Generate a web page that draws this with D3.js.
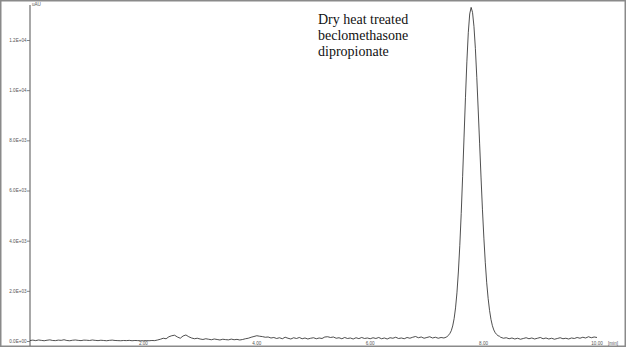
<!DOCTYPE html>
<html><head><meta charset="utf-8">
<script src="https://cdn.jsdelivr.net/npm/d3@7/dist/d3.min.js"></script>
<style>html,body{margin:0;padding:0;background:#fff;}svg{display:block;}</style>
</head><body>
<svg id="c" width="627" height="348"></svg>
<script>
// ---- data ----
const yTickValues = [0, 2000, 4000, 6000, 8000, 10000, 12000];
const yTickLabels = ["0.0E+00", "2.0E+03", "4.0E+03", "6.0E+03", "8.0E+03", "1.0E+04", "1.2E+04"];
const xTickValues = [2, 4, 6, 8, 10];
const xTickLabels = ["2.00", "4.00", "6.00", "8.00", "10.00"];
const yUnit = "uAU";
const xUnit = "[min]";
const titleLines = ["Dry heat treated", "beclomethasone", "dipropionate"];

// baseline before the peak: sampled every 0.05 min starting at 0.00 min
const preStart = 0.0, preStep = 0.05;
const preValues = [
  20, 35, 15, 40, 25, 10, 30, 45, 20, 15, 35, 25, 50, 20, 10, 30, 40, 25, 15, 35,
  30, 20, 40, 25, 15, 30, 20, 10, 25, 35, 20, 15, 10, 20, 15, 25, 10, 20, 15, 10,
  10, 15, 10, 20, 15, 40, 70, 110, 90, 170, 210, 230, 160, 110, 200, 240, 170, 120, 90, 110,
  80, 60, 90, 70, 50, 80, 60, 40, 70, 55, 45, 75, 50, 65, 40, 60, 90, 110, 150, 180,
  210, 190, 175, 150, 160, 120, 140, 100, 130, 90, 150, 110, 80, 130, 100, 140, 90, 120, 80, 110,
  130, 90, 120, 100, 160, 170, 140, 160, 110, 130, 90, 140, 100, 120, 80, 130, 95, 140, 100, 120,
  90, 130, 100, 140, 90, 120, 80, 130, 110, 150, 100, 120, 90, 140, 110, 150, 180, 130, 160, 110,
  140, 170, 120, 150, 110, 140, 120, 160
];
// the main peak
const peakTimes = [7.380, 7.405, 7.430, 7.455, 7.480, 7.505, 7.530, 7.555, 7.580, 7.605, 7.630, 7.655,
  7.680, 7.705, 7.730, 7.755, 7.780, 7.805, 7.830, 7.855, 7.880, 7.905, 7.930, 7.955, 7.980, 8.005,
  8.030, 8.055, 8.080, 8.105, 8.130, 8.155, 8.180, 8.205, 8.230, 8.255, 8.280];
const peakValues = [230, 300, 410, 600, 890, 1320, 1920, 2750, 3800, 5080, 6550, 8130,
  9700, 11130, 12290, 13040, 13300, 13100, 12540, 11660, 10510, 9210, 7860, 6500, 5230, 4100,
  3120, 2320, 1700, 1220, 860, 610, 440, 330, 260, 210, 190];
// baseline after the peak: sampled every 0.05 min starting at 8.30 min
const postStart = 8.30, postStep = 0.05;
const postValues = [
  150, 110, 130, 90, 120, 80, 110, 70, 100, 130, 90, 120, 80, 110, 140, 90, 120, 80, 110, 70,
  100, 130, 90, 110, 80, 120, 100, 140, 110, 150, 120, 170, 130, 160, 140
];

// ---- assemble ----
const trace = [];
preValues.forEach((v, i) => trace.push([preStart + i * preStep, v]));
peakTimes.forEach((t, i) => trace.push([t, peakValues[i]]));
postValues.forEach((v, i) => trace.push([postStart + i * postStep, v]));

const svg = d3.select("#c");
const x = d3.scaleLinear().domain([0, 10]).range([30, 597]);
const y = d3.scaleLinear().domain([0, 12000]).range([341, 40]);

// outer frame
svg.append("rect").attr("x", 0.75).attr("y", 0.75).attr("width", 624.5).attr("height", 345.5)
  .attr("fill", "none").attr("stroke", "#8a8a8a").attr("stroke-width", 1.5);

// y axis
const yAxis = d3.axisLeft(y).tickValues(yTickValues)
  .tickFormat((d, i) => yTickLabels[i]).tickSize(3).tickPadding(0.5);
const gy = svg.append("g").attr("transform", "translate(30,0)").call(yAxis);
gy.select(".domain").remove();
gy.selectAll(".tick line").attr("stroke", "#666").attr("stroke-width", 0.8);
gy.selectAll(".tick text").attr("font-family", "Liberation Sans, Arial, sans-serif")
  .attr("font-size", 4.6).attr("fill", "#555");
svg.append("line").attr("x1", 30).attr("x2", 30).attr("y1", 5).attr("y2", 346)
  .attr("stroke", "#6e6e6e").attr("stroke-width", 1.2);
svg.append("text").attr("x", 32).attr("y", 6).text(yUnit)
  .attr("font-family", "Liberation Sans, Arial, sans-serif").attr("font-size", 4.6).attr("fill", "#555");

// x axis labels
const gx = svg.append("g");
gx.selectAll("text").data(xTickValues).join("text")
  .attr("x", d => x(d)).attr("y", 345).attr("text-anchor", "middle")
  .attr("font-family", "Liberation Sans, Arial, sans-serif").attr("font-size", 4.6).attr("fill", "#555")
  .text((d, i) => xTickLabels[i]);
svg.append("text").attr("x", 613).attr("y", 345).attr("text-anchor", "middle")
  .attr("font-family", "Liberation Sans, Arial, sans-serif").attr("font-size", 4.6).attr("fill", "#555")
  .text(xUnit);

// trace
const line = d3.line().x(d => x(d[0])).y(d => y(d[1]));
svg.append("path").datum(trace).attr("d", line)
  .attr("fill", "none").attr("stroke", "#222").attr("stroke-width", 0.8).attr("stroke-linejoin", "round");

// annotation
const t = svg.append("text").attr("font-family", "Liberation Serif, Times New Roman, serif")
  .attr("font-size", 14).attr("fill", "#111");
titleLines.forEach((s, i) => t.append("tspan").attr("x", 318).attr("y", 24 + i * 16).text(s));
</script>
</body></html>
